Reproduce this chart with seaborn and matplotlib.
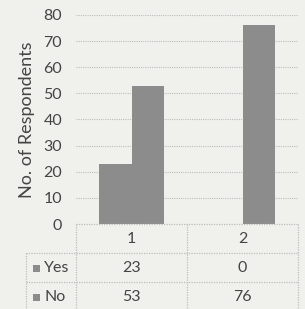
import pandas as pd
import matplotlib.pyplot as plt
import matplotlib.transforms as mtransforms
from matplotlib.patches import Rectangle
import seaborn as sns

# -----------------------------
# Data
# -----------------------------
categories = ["1", "2"]
series_names = ["Yes", "No"]
yes_values = [23, 0]
no_values = [53, 76]
y_ticks = [0, 10, 20, 30, 40, 50, 60, 70, 80]

df = pd.DataFrame({
    "category": categories * 2,
    "response": ["Yes"] * len(categories) + ["No"] * len(categories),
    "count": yes_values + no_values,
})

# -----------------------------
# Style
# -----------------------------
sns.set_style("white")
plt.rcParams["font.family"] = ["Lato", "DejaVu Sans"]

bg = "#f0f0ed"
bar_color = "#8c8c8c"
text_color = "#454545"
line_color = "#bdbdbd"

W, H = 305, 309
fig = plt.figure(figsize=(W / 100, H / 100), dpi=100, facecolor=bg)

# plot area in pixels: x 76..298, y 15..224
left, right, top, bottom = 76, 298, 15, 224
ax = fig.add_axes([left / W, 1 - bottom / H, (right - left) / W, (bottom - top) / H])
ax.set_facecolor(bg)

sns.barplot(
    data=df, x="category", y="count", hue="response",
    hue_order=series_names, order=categories,
    palette=[bar_color, bar_color], width=0.58, gap=0,
    legend=False, ax=ax, saturation=1, linewidth=0,
)

ax.set_xlim(-0.5, len(categories) - 0.5)
ax.set_ylim(0, 80)
ax.set_yticks(y_ticks)
ax.set_yticklabels([str(t) for t in y_ticks], fontsize=11.5, color=text_color)
ax.tick_params(axis="y", length=0, pad=10)
ax.set_xticks([])
ax.set_xlabel("")
ax.set_ylabel("No. of Respondents", fontsize=13, color=text_color, labelpad=6)
for t in y_ticks[1:]:
    ax.axhline(t, color=line_color, linestyle=(0, (1, 1)), linewidth=0.8, zorder=0)
for s in ax.spines.values():
    s.set_visible(False)

# -----------------------------
# Data table below the plot
# -----------------------------
ph = bottom - top
pw = right - left


def ay(py):
    return (bottom - py) / ph


def axx(px):
    return (px - left) / pw


row_lines = [224, 253, 282]
row_mid = [239, 268, 297]
label_left = 26

# horizontal lines
ax.plot([0, 1], [ay(224), ay(224)], transform=ax.transAxes, clip_on=False,
        color=line_color, linestyle=(0, (1, 1)), linewidth=0.9)
for py in row_lines[1:]:
    ax.plot([axx(label_left), 1], [ay(py), ay(py)], transform=ax.transAxes,
            clip_on=False, color=line_color, linestyle=(0, (1, 1)), linewidth=0.9)

# vertical lines
for px in [left, 187, right]:
    ax.plot([axx(px), axx(px)], [ay(224), ay(312)], transform=ax.transAxes,
            clip_on=False, color=line_color, linestyle=(0, (1, 1)), linewidth=0.9)
ax.plot([axx(label_left), axx(label_left)], [ay(253), ay(312)], transform=ax.transAxes,
        clip_on=False, color=line_color, linestyle=(0, (1, 1)), linewidth=0.9)

trans = mtransforms.blended_transform_factory(ax.transData, ax.transAxes)

# header row with categories
for i, cat in enumerate(categories):
    ax.text(i, ay(row_mid[0]), cat, transform=trans, ha="center", va="center",
            fontsize=11.5, color=text_color, clip_on=False)

# series rows
for r, (name, vals) in enumerate(zip(series_names, [yes_values, no_values])):
    y = ay(row_mid[r + 1])
    for i, v in enumerate(vals):
        ax.text(i, y, str(v), transform=trans, ha="center", va="center",
                fontsize=11.5, color=text_color, clip_on=False)
    ax.text(axx(44), y, name, transform=ax.transAxes, ha="left", va="center",
            fontsize=11.5, color=text_color, clip_on=False)
    ax.add_patch(Rectangle((axx(33), y - 3.5 / ph), 7 / pw, 7 / ph,
                           transform=ax.transAxes, clip_on=False,
                           facecolor=bar_color, edgecolor="none"))

fig.savefig("out.png", dpi=100, facecolor=bg)
